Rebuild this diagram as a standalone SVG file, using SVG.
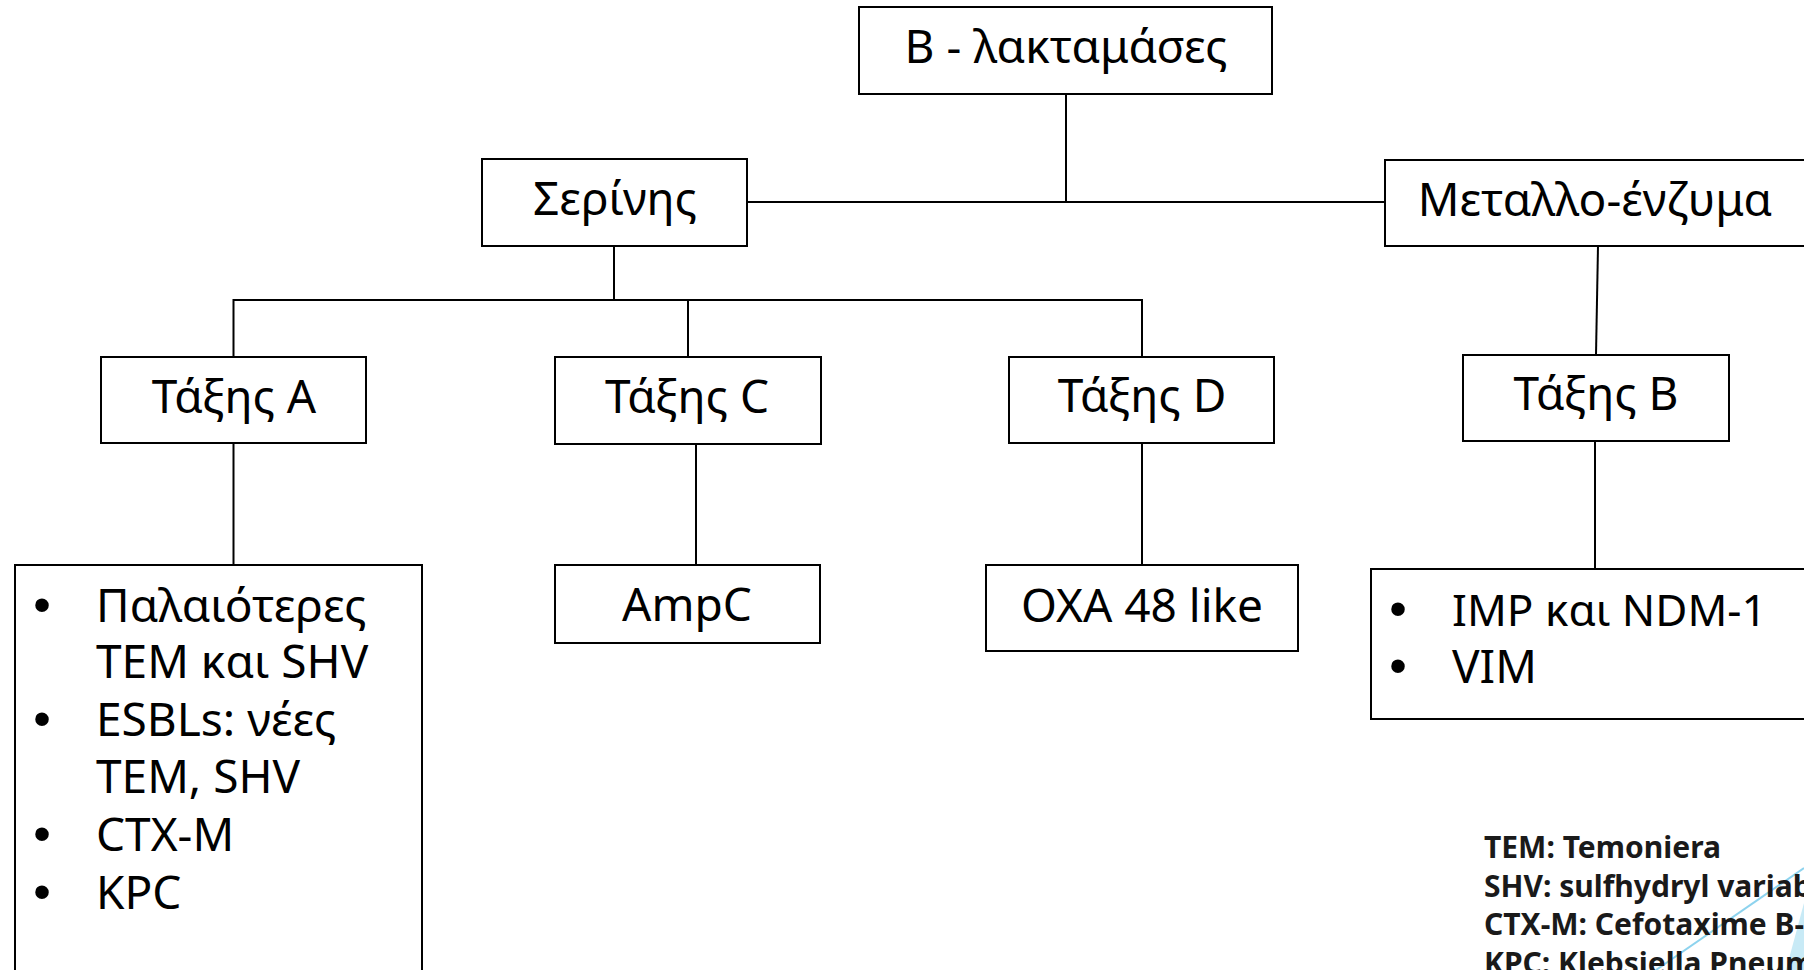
<svg xmlns="http://www.w3.org/2000/svg" width="1804" height="970" viewBox="0 0 1804 970">
<style>
.box{fill:#fff;stroke:#000;stroke-width:2}
.lbl{font-family:"Noto Sans","Open Sans","DejaVu Sans",sans-serif;font-size:46px;fill:#000}
.mid{text-anchor:middle}
.bul{font-family:"Liberation Sans",Arial,sans-serif;font-size:50px;fill:#000;text-anchor:middle}
.leg{font-family:"Noto Sans","Open Sans","DejaVu Sans",sans-serif;font-size:30px;font-weight:bold;fill:#1a1a1a}
.con{stroke:#000;stroke-width:2;fill:none}
</style>
<rect width="1804" height="970" fill="#fff"/>
<g id="decor">
<polygon points="1786,970 1804,903 1804,970" fill="#c8eaf6"/>
<line x1="1656" y1="970" x2="1804" y2="868" stroke="#8dd3ee" stroke-width="2"/>
</g>
<g id="connectors">
<path class="con" d="M1066,94 V202 M747,202 H1385"/>
<path class="con" d="M614,246 V300 M233.5,357 V300 H1142 V357 M688,300 V357"/>
<path class="con" d="M1598,246 L1596,355"/>
<path class="con" d="M233.5,443 V565"/>
<path class="con" d="M696,444 V565"/>
<path class="con" d="M1142,443 V565"/>
<path class="con" d="M1595,441 V569"/>
</g>
<g id="node-root">
<rect class="box" x="859" y="7" width="413" height="87"/>
<text class="lbl mid" x="1066" y="63">Β - λακταμάσες</text>
</g>
<g id="node-serinis">
<rect class="box" x="482" y="159" width="265" height="87"/>
<text class="lbl mid" x="615" y="215">Σερίνης</text>
</g>
<g id="node-metallo">
<rect class="box" x="1385" y="160" width="430" height="86"/>
<text class="lbl mid" x="1595" y="216">Μεταλλο-ένζυμα</text>
</g>
<g id="node-taxisA">
<rect class="box" x="101" y="357" width="265" height="86"/>
<text class="lbl mid" x="234" y="413">Τάξης A</text>
</g>
<g id="node-taxisC">
<rect class="box" x="555" y="357" width="266" height="87"/>
<text class="lbl mid" x="687" y="413">Τάξης C</text>
</g>
<g id="node-taxisD">
<rect class="box" x="1009" y="357" width="265" height="86"/>
<text class="lbl mid" x="1142" y="412">Τάξης D</text>
</g>
<g id="node-taxisB">
<rect class="box" x="1463" y="355" width="266" height="86"/>
<text class="lbl mid" x="1596" y="410">Τάξης B</text>
</g>
<g id="node-classA-list">
<rect class="box" x="15" y="565" width="407" height="420"/>
<text class="bul" x="42" y="622">•</text>
<text class="lbl" x="96" y="622">Παλαιότερες</text>
<text class="lbl" x="96" y="678">TEM και SHV</text>
<text class="bul" x="42" y="736">•</text>
<text class="lbl" x="96" y="736">ESBLs: νέες</text>
<text class="lbl" x="96" y="793">TEM, SHV</text>
<text class="bul" x="42" y="851">•</text>
<text class="lbl" x="96" y="851">CTX-M</text>
<text class="bul" x="42" y="909">•</text>
<text class="lbl" x="96" y="909">KPC</text>
</g>
<g id="node-ampc">
<rect class="box" x="555" y="565" width="265" height="78"/>
<text class="lbl mid" x="687" y="621">AmpC</text>
</g>
<g id="node-oxa">
<rect class="box" x="986" y="565" width="312" height="86"/>
<text class="lbl mid" x="1142" y="622">OXA 48 like</text>
</g>
<g id="node-classB-list">
<rect class="box" x="1371" y="569" width="450" height="150"/>
<text class="bul" x="1398" y="626">•</text>
<text class="lbl" x="1452" y="626" style="font-size:44px">IMP και NDM-1</text>
<text class="bul" x="1398" y="683">•</text>
<text class="lbl" x="1452" y="683">VIM</text>
</g>
<g id="legend">
<text class="leg" x="1484" y="858">TEM: Temoniera</text>
<text class="leg" x="1484" y="897">SHV: sulfhydryl variab</text>
<text class="leg" x="1484" y="935">CTX-M: Cefotaxime B-</text>
<text class="leg" x="1484" y="974">KPC: Klebsiella Pneum</text>
</g>
</svg>
